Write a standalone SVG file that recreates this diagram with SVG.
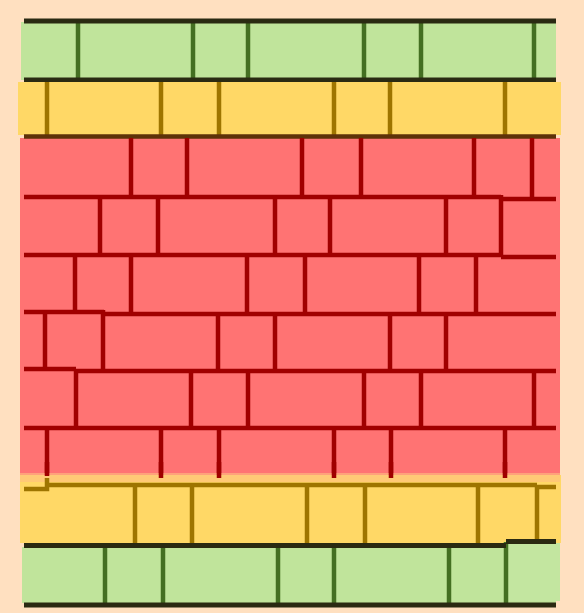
<svg xmlns="http://www.w3.org/2000/svg" width="584" height="613" viewBox="0 0 584 613">
<style>
.bg{fill:#FFE0C0}
.gf{fill:#C0E49B}
.yf{fill:#FFD866}
.rf{fill:#FF7373}
.hk{stroke:#2A2A12;stroke-width:5;fill:none}
.gv{stroke:#446F22;stroke-width:4.5;fill:none}
.yv{stroke:#9E7500;stroke-width:4.5;fill:none}
.rl{stroke:#A00000;stroke-width:4.5;fill:none}
.hb{stroke:#5E3208;stroke-width:4.5;fill:none}
</style>
<rect class="bg" x="0" y="0" width="584" height="613"/>
<g id="green-top">
<rect class="gf" x="21" y="22" width="535" height="58"/>
<path class="gv" d="M78 22V80M193 22V80M248 22V80M364 22V80M421 22V80M534 22V80"/>
<path class="hk" d="M24 21H556M24 80H556"/>
</g>
<g id="yellow-top">
<rect class="yf" x="18" y="82" width="543" height="53"/>
<path class="yv" d="M47 82V135M161 82V135M219 82V135M334 82V135M390 82V135M505 82V135"/>
</g>
<g id="red-wall">
<rect class="rf" x="20" y="138" width="540" height="337"/>
<path class="hb" d="M24 136.5H556"/>
<path class="rl" d="M24 197H501M501 199H556M24 255H501M501 257H556M24 312H104M104 314H556M24 369H76M76 371H556M24 428H556"/>
<path class="rl" d="M131 138V197M187 138V197M302 138V197M361 138V197M474 138V197M532 138V199"/>
<path class="rl" d="M100 197V255M158 197V255M275 197V255M330 197V255M446 197V255M501 195V257"/>
<path class="rl" d="M75 255V312M131 255V312M247 255V312M305 255V314M419 255V314M476 255V314"/>
<path class="rl" d="M45 312V369M103 310V371M218 314V371M275 314V371M390 314V371M446 314V371"/>
<path class="rl" d="M76 369V428M191 371V428M248 371V428M364 371V428M421 371V428M534 371V428"/>
<path class="rl" d="M47 428V478M161 428V480M219 428V480M334 428V480M391 428V480M505 428V480"/>
</g>
<g id="yellow-bottom">
<rect class="yf" x="20" y="475" width="541" height="68"/>
<rect x="20" y="473" width="540" height="9" fill="#FFC080" opacity="0.6"/>
<path class="rl" d="M47 462V476M161 462V478M219 462V478M334 462V478M391 462V478M505 462V478"/>
<path class="yv" d="M24 489H47V478M47 485H537M537 487H556M135 485V543M192 485V543M307 485V543M365 485V543M478 485V543M537 485V543"/>
</g>
<g id="green-bottom">
<rect class="gf" x="22" y="547" width="534" height="56"/>
<rect x="506" y="543" width="54" height="58" fill="#C3E6A0"/>
<path class="gv" d="M105 547V604M163 547V604M278 547V604M334 547V604M449 547V604M506 542V604"/>
<path class="hk" d="M24 545.5H506M506 541.5H556M24 605H556"/>
</g>
</svg>
